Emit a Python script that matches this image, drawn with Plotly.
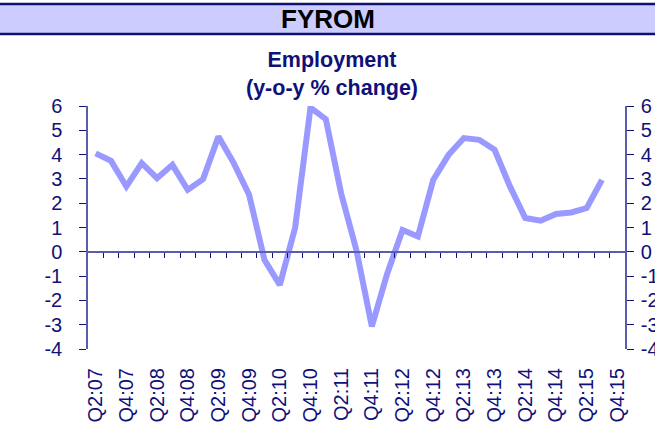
import plotly.graph_objects as go
import numpy as np

# ---- data ----
quarters = ["Q2:07", "Q3:07", "Q4:07",
            "Q1:08", "Q2:08", "Q3:08", "Q4:08",
            "Q1:09", "Q2:09", "Q3:09", "Q4:09",
            "Q1:10", "Q2:10", "Q3:10", "Q4:10",
            "Q1:11", "Q2:11", "Q3:11", "Q4:11",
            "Q1:12", "Q2:12", "Q3:12", "Q4:12",
            "Q1:13", "Q2:13", "Q3:13", "Q4:13",
            "Q1:14", "Q2:14", "Q3:14", "Q4:14",
            "Q1:15", "Q2:15", "Q3:15", "Q4:15"]
employment = [4.05, 3.74, 2.69,
              3.65, 3.03, 3.58, 2.55,
              2.99, 4.74, 3.65, 2.35,
              -0.33, -1.36, 0.99, 5.93,
              5.46, 2.4, 0.05, -3.07,
              -0.9, 0.9, 0.63, 2.96,
              3.99, 4.68, 4.61, 4.2,
              2.69, 1.39, 1.28, 1.56,
              1.62, 1.8, 2.96]
tick_labels = quarters[::2]
y_ticks = [-4, -3, -2, -1, 0, 1, 2, 3, 4, 5, 6]
y_tick_text = [str(v) for v in y_ticks]
y_range = [-4, 6]

# ---- layout geometry (pixels) ----
W, H = 655, 436
ML, MR, MT, MB = 88, 30, 106, 87
PW, PH = W - ML - MR, H - MT - MB

def px_x(px):
    return (px - ML) / PW

def px_y(py):
    return (H - MB - py) / PH

navy = "#10107a"
axis_col = "#5c5cac"
font_family = "Liberation Sans, Arial, sans-serif"

fig = go.Figure()
fig.add_trace(go.Scatter(
    x=quarters[:len(employment)], y=employment, mode="lines",
    line=dict(color="#9999ff", width=6), hoverinfo="skip", showlegend=False,
))

n = len(quarters)
fig.update_layout(
    width=W, height=H,
    margin=dict(l=ML, r=MR, t=MT, b=MB, autoexpand=False),
    paper_bgcolor="white", plot_bgcolor="white",
    font=dict(family=font_family, color=navy, size=20),
    showlegend=False,
    xaxis=dict(
        type="category", categoryorder="array", categoryarray=quarters,
        range=[-0.5, n - 0.5], tickvals=tick_labels, ticktext=tick_labels,
        tickangle=-90, ticks="", showline=False, showgrid=False, zeroline=False,
        tickfont=dict(size=20, color=navy), ticklabelstandoff=14, fixedrange=True,
        automargin=False,
    ),
    xaxis2=dict(
        overlaying="x", anchor="free", position=(0 - y_range[0]) / (y_range[1] - y_range[0]),
        range=[-0.5, n - 0.5], tickvals=list(np.arange(0.5, n - 1, 1.0)),
        showticklabels=False, ticks="outside", ticklen=5, tickwidth=1.2, tickcolor=navy,
        showline=True, linecolor=axis_col, linewidth=1.5, showgrid=False, zeroline=False,
        automargin=False,
    ),
    yaxis=dict(
        range=y_range, tickvals=y_ticks, ticktext=y_tick_text, ticks="outside", ticklen=7,
        tickwidth=1.2, tickcolor=navy,
        showline=True, linecolor=axis_col, linewidth=1.5, showgrid=False, zeroline=False,
        tickfont=dict(size=20, color=navy), ticklabelstandoff=13, automargin=False,
    ),
    yaxis2=dict(
        overlaying="y", side="right", range=y_range, tickvals=y_ticks, ticktext=y_tick_text,
        ticks="outside", ticklen=7,
        tickwidth=1.2, tickcolor=navy, showline=True, linecolor=axis_col, linewidth=1.5,
        showgrid=False, zeroline=False, tickfont=dict(size=20, color=navy), anchor="x",
        ticklabelstandoff=3, automargin=False,
    ),
)

# invisible helper traces so overlay axes render
fig.add_trace(go.Scatter(x=[0], y=[0], xaxis="x2", yaxis="y", mode="markers",
                         marker=dict(opacity=0), hoverinfo="skip", showlegend=False))
fig.add_trace(go.Scatter(x=[quarters[0]], y=[0], xaxis="x", yaxis="y2", mode="markers",
                         marker=dict(opacity=0), hoverinfo="skip", showlegend=False))

# header band
fig.add_shape(type="rect", xref="paper", yref="paper",
              x0=px_x(-5), x1=px_x(W + 5), y0=px_y(34), y1=px_y(4),
              fillcolor="#ccccff", line=dict(width=0), layer="below")
for yy in (4, 34):
    fig.add_shape(type="line", xref="paper", yref="paper",
                  x0=px_x(-5), x1=px_x(W + 5), y0=px_y(yy), y1=px_y(yy),
                  line=dict(color="#101070", width=2.5))

fig.add_annotation(text="<b>FYROM</b>", xref="paper", yref="paper",
                   x=px_x(327.5), y=px_y(19), showarrow=False,
                   font=dict(size=26, color="black", family=font_family),
                   xanchor="center", yanchor="middle")
fig.add_annotation(text="<b>Employment</b><br><b>(y-o-y % change)</b>", xref="paper", yref="paper",
                   x=px_x(332), y=px_y(74), showarrow=False,
                   font=dict(size=21.5, color=navy, family=font_family),
                   xanchor="center", yanchor="middle")

fig.write_html("out.html", config={"displayModeBar": False},
               post_script="document.body.style.margin='0px';")
